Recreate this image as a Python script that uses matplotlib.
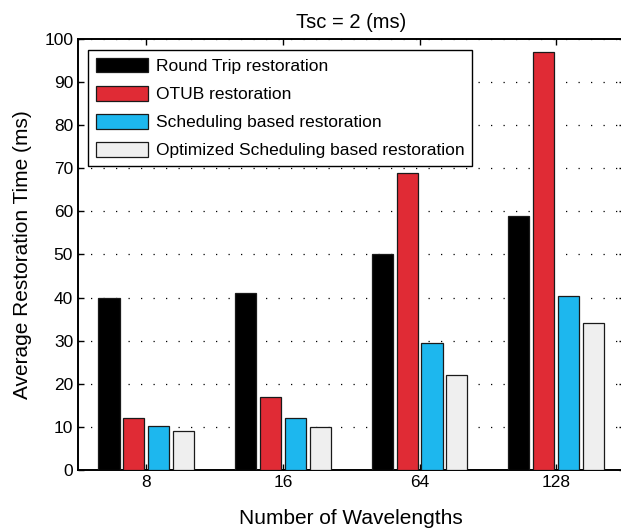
import numpy as np
import matplotlib

matplotlib.use("Agg")
import matplotlib.pyplot as plt

plt.rcParams["font.family"] = ["Liberation Sans", "DejaVu Sans"]

# data
wavelengths = ["8", "16", "64", "128"]
round_trip = [40, 41, 50, 59]
otub = [12, 17, 69, 97]
scheduling = [10.3, 12, 29.4, 40.3]
optimized = [9, 10, 22, 34]

series_names = [
    "Round Trip restoration",
    "OTUB restoration",
    "Scheduling based restoration",
    "Optimized Scheduling based restoration",
]
series_colors = ["#000000", "#e02b35", "#1db7ee", "#efefef"]

fig = plt.figure(figsize=(6.21, 5.30), dpi=100)
ax = fig.add_axes([78 / 621, 1 - 470 / 530, (624.5 - 78) / 621, (470 - 39) / 530])

x = np.arange(1, len(wavelengths) + 1)
step = 0.182
width = 0.155
for i, (vals, name, color) in enumerate(zip([round_trip, otub, scheduling, optimized], series_names, series_colors)):
    ax.bar(x + (i - 1.5) * step, vals, width, color=color, edgecolor="#1a1a1a",
           linewidth=0.9, label=name, zorder=3)

ax.set_xlim(0.5, 4.5)
ax.set_ylim(0, 100)
ax.set_xticks(x)
ax.set_xticklabels(wavelengths)
ax.set_yticks(np.arange(0, 101, 10))
ax.yaxis.grid(True, linestyle=(0, (1, 9)), color="black", linewidth=0.9, zorder=0)
ax.set_axisbelow(True)
ax.tick_params(direction="in", top=True, right=True, labelsize=12.5, length=4, width=1)
for spine in ax.spines.values():
    spine.set_linewidth(1.4)

ax.set_xlabel("Number of Wavelengths", fontsize=15, labelpad=14)
ax.set_ylabel("Average Restoration Time (ms)", fontsize=15, labelpad=9)
ax.set_title("Tsc = 2 (ms)", fontsize=14.5, pad=8)

leg = ax.legend(loc="upper left", bbox_to_anchor=(88 / 621, 1 - 50 / 530), bbox_transform=fig.transFigure,
                borderaxespad=0, fontsize=12.5, handlelength=3.0, handleheight=0.92,
                labelspacing=0.68, handletextpad=0.45, borderpad=0.45, fancybox=False, framealpha=1)
leg.get_frame().set_edgecolor("black")
leg.get_frame().set_linewidth(1.0)

fig.savefig("out.png", dpi=100)
